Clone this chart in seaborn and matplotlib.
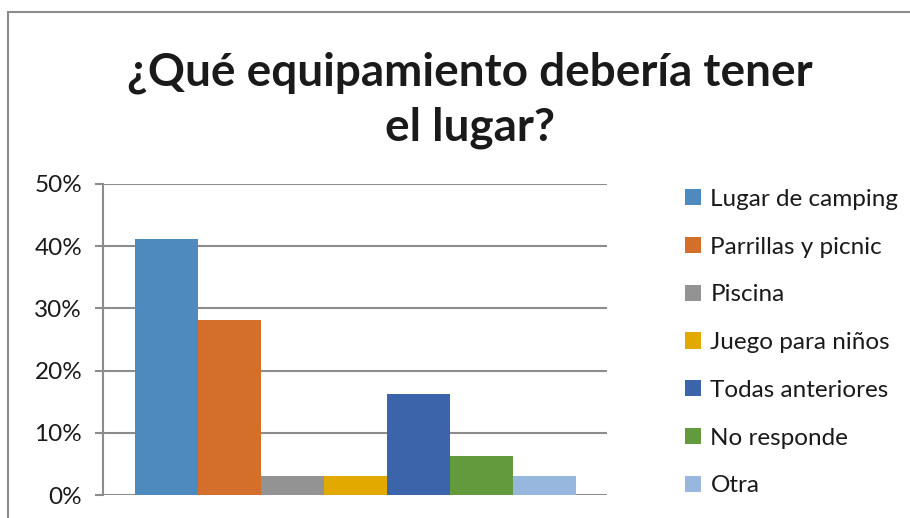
import matplotlib
matplotlib.use("Agg")
import matplotlib.pyplot as plt
from matplotlib.patches import Rectangle
from matplotlib.ticker import PercentFormatter
import pandas as pd
import seaborn as sns

# datos
opciones = ["Lugar de camping", "Parrillas y picnic", "Piscina",
            "Juego para niños", "Todas anteriores", "No responde", "Otra"]
porcentajes = [41.2, 28.1, 3.1, 3.1, 16.2, 6.3, 3.1]
colores = ["#4F8ABE", "#D36F2B", "#939393", "#E2A900",
           "#3C64AB", "#629A3D", "#97B7DE"]
ticks_y = [0, 10, 20, 30, 40, 50]

df = pd.DataFrame({"grupo": [""] * len(opciones),
                   "opcion": opciones,
                   "valor": porcentajes})

sns.set_style("white")
plt.rcParams["font.family"] = ["Lato", "DejaVu Sans"]

fig = plt.figure(figsize=(9.1, 5.18), dpi=100)
ax = fig.add_axes([103 / 910, 1 - 495 / 518, 504 / 910, 311 / 518])

sns.barplot(data=df, x="grupo", y="valor", hue="opcion",
            palette=colores, saturation=1, width=0.875, linewidth=0,
            dodge=True, ax=ax, legend=True)

ax.set_ylim(0, 50)
ax.set_xlim(-0.5, 0.5)
ax.set_yticks(ticks_y)
ax.yaxis.set_major_formatter(PercentFormatter(decimals=0))
ax.yaxis.grid(True, color="#8C8C8C", lw=1.5)
ax.set_axisbelow(True)
ax.set_xticks([])
ax.set_xlabel("")
ax.set_ylabel("")
for s in ["top", "right", "bottom"]:
    ax.spines[s].set_visible(False)
ax.spines["left"].set_color("#8C8C8C")
ax.spines["left"].set_linewidth(1.5)
ax.tick_params(axis="y", left=True, length=6, width=1.5, color="#8C8C8C",
               labelsize=17.5, pad=9, labelcolor="#1a1a1a")

handles, labels = ax.get_legend_handles_labels()
ax.get_legend().remove()
fig.legend(handles, labels, loc="upper left",
           bbox_to_anchor=(663 / 910, 1 - 167 / 518),
           frameon=False, fontsize=17.5, handlelength=0.65, handleheight=0.65,
           handletextpad=0.4, labelspacing=1.1, labelcolor="#1a1a1a")

fig.suptitle("¿Qué equipamiento debería tener\nel lugar?", x=470 / 910,
             y=1 - 51 / 518, fontsize=33, fontweight="bold",
             color="#1a1a1a", linespacing=1.38)

# marco exterior del grafico
fig.add_artist(Rectangle((8 / 910, -0.1), 1.2, 1 - 12 / 518 + 0.1,
                         transform=fig.transFigure, fill=False,
                         edgecolor="#8C8C8C", lw=1.5))

fig.savefig("out.png", dpi=100)
